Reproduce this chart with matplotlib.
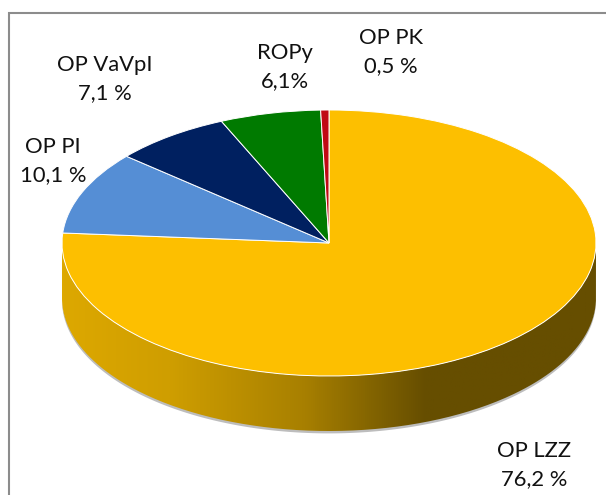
import numpy as np
import matplotlib
matplotlib.use("Agg")
import matplotlib.pyplot as plt
from matplotlib.colors import LinearSegmentedColormap
from matplotlib.patches import PathPatch, Rectangle
from matplotlib.path import Path

plt.rcParams['font.family'] = ['Lato', 'DejaVu Sans']

categories = ['OP LZZ', 'OP PI', 'OP VaVpI', 'ROPy', 'OP PK']
values = [76.2, 10.1, 7.1, 6.1, 0.5]
value_labels = ['76,2 %', '10,1 %', '7,1 %', '6,1%', '0,5 %']
colors = ['#FDBF00', '#558ED5', '#002060', '#007A00', '#C00A14']
label_px = [(534, 465), (53, 161), (105, 79), (285, 67), (391, 52)]

W, H = 606, 495
CX, CY, A, B, DEPTH = 329, 243, 267, 133, 55

fig = plt.figure(figsize=(W / 100, H / 100), dpi=100)
ax = fig.add_axes([0, 0, 1, 1])
ax.pie(values, colors=colors, startangle=90, counterclock=False, radius=1,
       wedgeprops=dict(edgecolor='white', linewidth=0.7))
ax.set_aspect('auto')
ax.axis('off')
d = DEPTH / B

t = np.linspace(np.pi, 2 * np.pi, 300)
xs, ys = np.cos(t), np.sin(t)
verts = np.r_[np.c_[xs, ys], np.c_[xs[::-1], ys[::-1] - d], [[xs[0], ys[0]]]]
band = Path(verts)

# soft shadow under the side wall
shadow = np.r_[np.c_[xs, ys - d + 0.012], np.c_[xs[::-1], ys[::-1] - d - 0.018]]
ax.fill(shadow[:, 0], shadow[:, 1], color='#BDBDBD', lw=0, zorder=0.5)

cmap = LinearSegmentedColormap.from_list(
    'side', [(0, '#DDA800'), (0.2, '#CF9E00'), (0.45, '#A88000'),
             (0.68, '#664E00'), (1, '#664E00')])
im = ax.imshow(np.linspace(0, 1, 512)[None, :], extent=(-1, 1, -1 - d, 0.1),
               cmap=cmap, aspect='auto', zorder=0.6)
clip = PathPatch(band, transform=ax.transData, fc='none', ec='none')
ax.add_patch(clip)
im.set_clip_path(clip)
ax.set_xlim(-CX / A, (W - CX) / A)
ax.set_ylim(-(H - CY) / B, CY / B)

# chart frame
fig.add_artist(Rectangle((9 / W, -0.05), (W + 20) / W, 1.05 - 13 / H,
                         transform=fig.transFigure, fc='none',
                         ec='#8C8C8C', lw=1.5))

for c, v, (px, py) in zip(categories, value_labels, label_px):
    fig.text(px / W, 1 - py / H, f'{c}\n{v}', ha='center', va='center',
             fontsize=15.8, color='#111111', linespacing=1.45)

fig.savefig('out.png', dpi=100)
